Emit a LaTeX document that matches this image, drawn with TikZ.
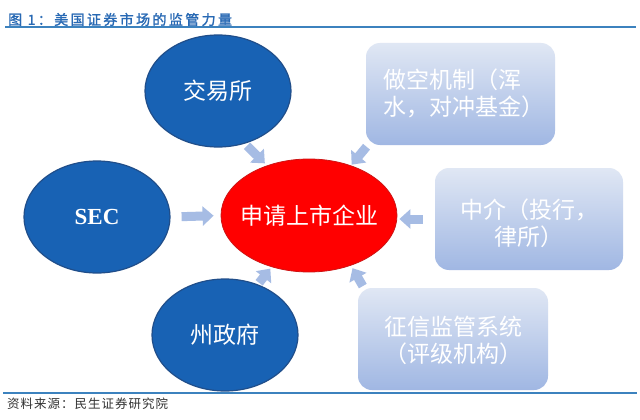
\documentclass[tikz,border=0pt]{standalone}
\usepackage{fontspec}
\setmainfont{Liberation Serif}
\newfontfamily\cjk{Noto Sans CJK SC}
\newfontfamily\cjkt[LetterSpace=17,FakeBold=1.5]{Noto Sans CJK SC}
\newfontfamily\cjks[LetterSpace=8]{Noto Sans CJK SC}
\usetikzlibrary{arrows.meta,shapes.geometric}
\definecolor{cblue}{RGB}{24,98,180}
\definecolor{cblueb}{RGB}{32,78,138}
\definecolor{cred}{RGB}{255,0,0}
\definecolor{credb}{RGB}{205,20,20}
\definecolor{btop}{RGB}{224,231,244}
\definecolor{bbot}{RGB}{160,183,227}
\definecolor{arr}{RGB}{166,188,228}
\definecolor{ttl}{RGB}{40,105,180}
\definecolor{rulec}{RGB}{60,130,190}
\definecolor{srcc}{RGB}{50,50,50}
\tikzset{
  circ/.style={ellipse, fill=cblue, draw=cblueb, line width=1.2pt, minimum width=146pt, minimum height=112pt, inner sep=0pt, text=white, font=\cjk\fontsize{23}{27}\selectfont},
  redell/.style={ellipse, fill=cred, draw=credb, line width=0.8pt, minimum width=176pt, minimum height=113pt, inner sep=0pt},
  redtxt/.style={inner sep=0pt, text=white, font=\cjk\fontsize{23}{27}\selectfont},
  bx/.style={rectangle, rounded corners=14pt, top color=btop, bottom color=bbot, minimum height=102pt, inner sep=0pt},
  bxt/.style={inner sep=0pt, text=white, font=\cjk\fontsize{23}{27}\selectfont},
  blk/.style={draw=arr, line width=9pt, -{Triangle[width=19pt,length=11pt]}},
  rulel/.style={draw=rulec, line width=1.5pt}
}
\begin{document}
\begin{tikzpicture}[x=1pt,y=-1pt]
\useasboundingbox (0,0) rectangle (640,420);
\fill[white] (0,0) rectangle (640,420);
% title
\node[anchor=west, inner sep=0pt, text=ttl, font=\cjkt\fontsize{14}{16}\selectfont] (title) at (8,19.5) {图 1：美国证券市场的监管力量};
\coordinate (tl1) at (5,27);
\coordinate (tl2) at (636,27);
\draw[rulel] (tl1) -- (tl2);
% regulators
\node[circ] (jys) at (218,91) {交易所};
\node[circ, font=\bfseries\fontsize{23}{27}\selectfont] (sec) at (97,217) {SEC};
\node[circ] (zf) at (225,335) {州政府};
\node[redell] (red) at (309,215.5) {};
\node[redtxt] (redt) at (red.center) {申请上市企业};
% boxes
\node[bx, minimum width=189pt] (b1) at (460.5,94) {};
\node[bx, minimum width=188pt] (b2) at (529,219) {};
\node[bx, minimum width=190pt] (b3) at (453,339) {};
\node[bxt, anchor=west, align=left] (b1t) at (383,93) {做空机制（浑\\水，对冲基金）};
\node[bxt, align=center] (b2t) at (529,223) {中介（投行，\\律所）};
\node[bxt, align=center] (b3t) at (453,340.5) {征信监管系统\\（评级机构）};
% arrows
\draw[blk, shorten <=3pt, shorten >=3pt] (jys.-63) -- (red.130);
\draw[blk, shorten <=11pt, shorten >=7pt] (sec.east) -- (red.west);
\draw[blk, shorten <=2pt, shorten >=2pt] (zf.57) -- (red.234);
\draw[blk, shorten <=2pt, shorten >=1pt] ([xshift=2pt]b1.south west) -- (red.50);
\draw[blk, shorten <=12pt, shorten >=2pt] (b2.west) -- (b2.west -| red.east);
\draw[blk, shorten <=2pt, shorten >=3pt] ([xshift=6pt]b3.north west) -- (red.-50);
% source
\coordinate (bl1) at (3,393);
\coordinate (bl2) at (637,393);
\draw[rulel] (bl1) -- (bl2);
\node[anchor=west, inner sep=0pt, text=srcc, font=\cjks\fontsize{12.5}{14}\selectfont] (src) at (7,404) {资料来源：民生证券研究院};
\end{tikzpicture}
\end{document}
